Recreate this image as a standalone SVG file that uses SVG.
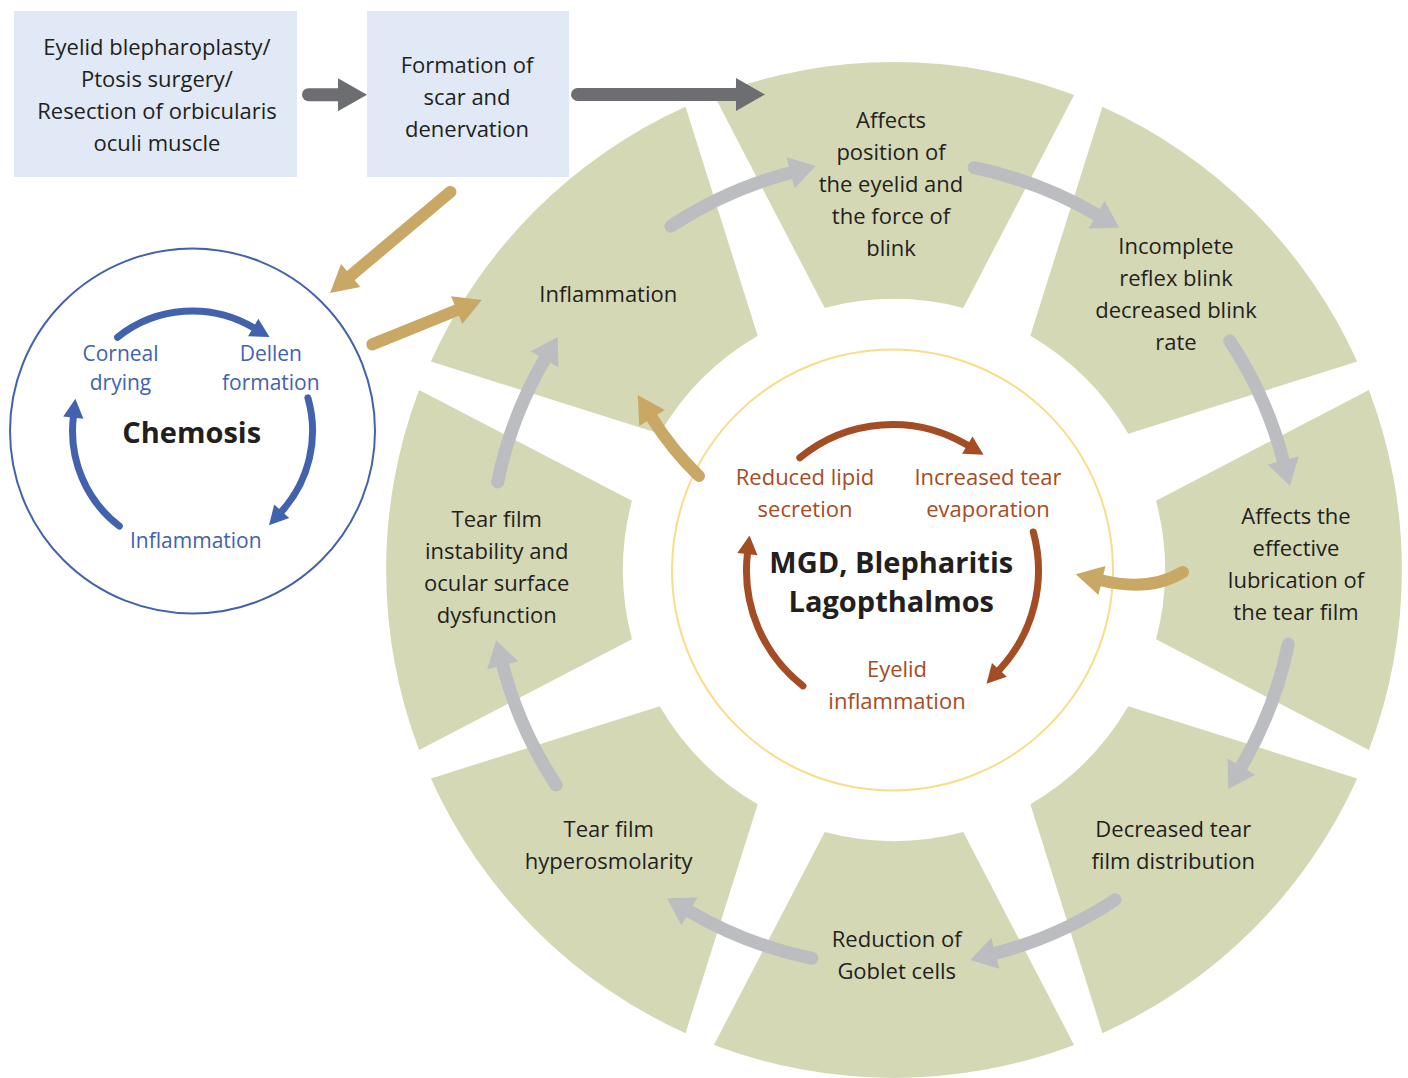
<svg xmlns="http://www.w3.org/2000/svg" width="1408" height="1078" viewBox="0 0 1408 1078">
<defs>
<style>
text { font-family: "Open Sans", "Liberation Sans", sans-serif; }
.t { font-size: 22px; fill: #231F20; text-anchor: middle; }
.br { font-size: 22px; fill: #A44C24; text-anchor: middle; }
.bl { font-size: 21px; fill: #4262AE; text-anchor: middle; }
.bold { font-weight: 700; fill: #231F20; text-anchor: middle; }
.box { fill: #E1E8F6; }
.sector { fill: #D5D8B5; }
.dark { fill: none; stroke: #6D6E71; stroke-width: 13; stroke-linecap: round; marker-end: url(#mDark); }
.gray { fill: none; stroke: #BCBDC1; stroke-width: 13; stroke-linecap: round; marker-end: url(#mGray); }
.gold { fill: none; stroke: #C8A864; stroke-width: 12; stroke-linecap: round; marker-end: url(#mGold); }
.brown { fill: none; stroke: #A44C24; stroke-width: 7; stroke-linecap: round; marker-end: url(#mBrown); }
.blue { fill: none; stroke: #4262AE; stroke-width: 7; stroke-linecap: round; marker-end: url(#mBlue); }
</style>
<marker id="mDark" viewBox="0 -1.3 2.3 2.6" markerWidth="2.3" markerHeight="2.6" refX="0" refY="0" orient="auto" overflow="visible"><path d="M0,-1.27 L2.23,0 L0,1.27 Z" fill="#6D6E71"/></marker>
<marker id="mGray" viewBox="0 -1.3 2 2.6" markerWidth="2" markerHeight="2.6" refX="0" refY="0" orient="auto" overflow="visible"><path d="M0,-1.23 L2,0 L0,1.23 Z" fill="#BCBDC1"/></marker>
<marker id="mGold" viewBox="0 -1.3 2.3 2.6" markerWidth="2.3" markerHeight="2.6" refX="0" refY="0" orient="auto" overflow="visible"><path d="M0,-1.25 L2.25,0 L0,1.25 Z" fill="#C8A864"/></marker>
<marker id="mBrown" viewBox="0 -1.5 2.7 3" markerWidth="2.7" markerHeight="3" refX="0" refY="0" orient="auto" overflow="visible"><path d="M0,-1.45 L2.7,0 L0,1.45 Z" fill="#A44C24"/></marker>
<marker id="mBlue" viewBox="0 -1.5 2.7 3" markerWidth="2.7" markerHeight="3" refX="0" refY="0" orient="auto" overflow="visible"><path d="M0,-1.45 L2.7,0 L0,1.45 Z" fill="#4262AE"/></marker>
<path id="sec" d="M262.05,-69.26 L474.9,-180.1 A508,508 0 0 1 474.9,180.1 L262.05,69.26 A271,271 0 0 0 262.05,-69.26 Z"/>
</defs>
<rect width="1408" height="1078" fill="#FFFFFF"/>

<g id="ring">
<use href="#sec" class="sector" transform="translate(894,570) rotate(0)"/>
<use href="#sec" class="sector" transform="translate(894,570) rotate(-45)"/>
<use href="#sec" class="sector" transform="translate(894,570) rotate(-90)"/>
<use href="#sec" class="sector" transform="translate(894,570) rotate(-135)"/>
<use href="#sec" class="sector" transform="translate(894,570) rotate(180)"/>
<use href="#sec" class="sector" transform="translate(894,570) rotate(135)"/>
<use href="#sec" class="sector" transform="translate(894,570) rotate(90)"/>
<use href="#sec" class="sector" transform="translate(894,570) rotate(45)"/>
<circle cx="892.5" cy="570" r="220.5" fill="none" stroke="#F7DE8A" stroke-width="2"/>
</g>

<g id="node-surgery">
<rect class="box" x="14" y="11" width="283" height="166"/>
<text class="t" x="157" y="55">Eyelid blepharoplasty/</text>
<text class="t" x="157" y="87">Ptosis surgery/</text>
<text class="t" x="157" y="119">Resection of orbicularis</text>
<text class="t" x="157" y="151">oculi muscle</text>
</g>

<g id="node-scar">
<rect class="box" x="367" y="11" width="202" height="166"/>
<text class="t" x="467" y="72.5">Formation of</text>
<text class="t" x="467" y="104.5">scar and</text>
<text class="t" x="467" y="136.5">denervation</text>
</g>

<g id="node-chemosis">
<circle cx="192.5" cy="431" r="182.5" fill="#FFFFFF" stroke="#4262AE" stroke-width="2"/>
<text class="bl" x="120.5" y="361">Corneal</text>
<text class="bl" x="120.5" y="389.6">drying</text>
<text class="bl" x="270.8" y="361">Dellen</text>
<text class="bl" x="270.8" y="389.6">formation</text>
<text class="bl" x="195.8" y="548">Inflammation</text>
<text class="bold" x="191.7" y="443" font-size="29">Chemosis</text>
<path class="blue" d="M117.6,337.2 A120,120 0 0 1 253.2,327.5"/>
<path class="blue" d="M307.9,397.9 A120,120 0 0 1 281.7,511.3"/>
<path class="blue" d="M119.3,526.1 A120,120 0 0 1 73.3,417.6"/>
</g>

<g id="node-mgd">
<text class="br" x="805" y="485">Reduced lipid</text>
<text class="br" x="805" y="517">secretion</text>
<text class="br" x="988" y="485">Increased tear</text>
<text class="br" x="988" y="517">evaporation</text>
<text class="br" x="897" y="676.5">Eyelid</text>
<text class="br" x="897" y="708.5">inflammation</text>
<text class="bold" x="891.3" y="573" font-size="29">MGD, Blepharitis</text>
<text class="bold" x="891.3" y="611.5" font-size="29">Lagopthalmos</text>
<path class="brown" d="M799.8,457.7 A146,146 0 0 1 967.3,445.1"/>
<path class="brown" d="M1033.3,532.0 A146,146 0 0 1 999.4,669.9"/>
<path class="brown" d="M803.0,685.9 A146,146 0 0 1 747.4,554.2"/>
</g>

<g id="node-position">
<text class="t" x="891" y="128">Affects</text>
<text class="t" x="891" y="160">position of</text>
<text class="t" x="891" y="192">the eyelid and</text>
<text class="t" x="891" y="224">the force of</text>
<text class="t" x="891" y="256">blink</text>
</g>
<g id="node-blink">
<text class="t" x="1176" y="253.5">Incomplete</text>
<text class="t" x="1176" y="285.5">reflex blink</text>
<text class="t" x="1176" y="317.5">decreased blink</text>
<text class="t" x="1176" y="349.5">rate</text>
</g>
<g id="node-lubrication">
<text class="t" x="1296" y="524">Affects the</text>
<text class="t" x="1296" y="556">effective</text>
<text class="t" x="1296" y="588">lubrication of</text>
<text class="t" x="1296" y="620">the tear film</text>
</g>
<g id="node-distribution">
<text class="t" x="1173.3" y="836.7">Decreased tear</text>
<text class="t" x="1173.3" y="868.7">film distribution</text>
</g>
<g id="node-goblet">
<text class="t" x="896.7" y="946.7">Reduction of</text>
<text class="t" x="896.7" y="978.7">Goblet cells</text>
</g>
<g id="node-hyperosmolarity">
<text class="t" x="608.7" y="836.7">Tear film</text>
<text class="t" x="608.7" y="868.7">hyperosmolarity</text>
</g>
<g id="node-instability">
<text class="t" x="496.7" y="526.7">Tear film</text>
<text class="t" x="496.7" y="558.7">instability and</text>
<text class="t" x="496.7" y="590.7">ocular surface</text>
<text class="t" x="496.7" y="622.7">dysfunction</text>
</g>
<g id="node-inflammation">
<text class="t" x="608.3" y="301.7">Inflammation</text>
</g>

<g id="connectors">
<path class="dark" d="M308.5,94.7 H338"/>
<path class="dark" d="M577.5,94.5 H736"/>
<path class="gray" d="M670.9,226.2 A403.5,403.5 0 0 1 790.6,172.7"/>
<path class="gray" d="M974.1,167.7 A403.5,403.5 0 0 1 1096.6,214.6"/>
<path class="gray" d="M1229.8,340.9 A403.5,403.5 0 0 1 1283.3,460.6"/>
<path class="gray" d="M1288.3,644.1 A403.5,403.5 0 0 1 1241.4,766.6"/>
<path class="gray" d="M1115.1,899.8 A403.5,403.5 0 0 1 995.4,953.3"/>
<path class="gray" d="M811.9,958.3 A403.5,403.5 0 0 1 689.4,911.4"/>
<path class="gray" d="M556.2,785.1 A403.5,403.5 0 0 1 502.7,665.4"/>
<path class="gray" d="M497.7,481.9 A403.5,403.5 0 0 1 544.6,359.4"/>
<path class="gold" d="M450.4,191.9 L350.7,275.6"/>
<path class="gold" d="M372.3,344.4 L456.7,310.2"/>
<path class="gold" d="M699,476 Q672,450 652,418"/>
<path class="gold" d="M1183,572 Q1150,592 1102,580.5"/>
</g>
</svg>
